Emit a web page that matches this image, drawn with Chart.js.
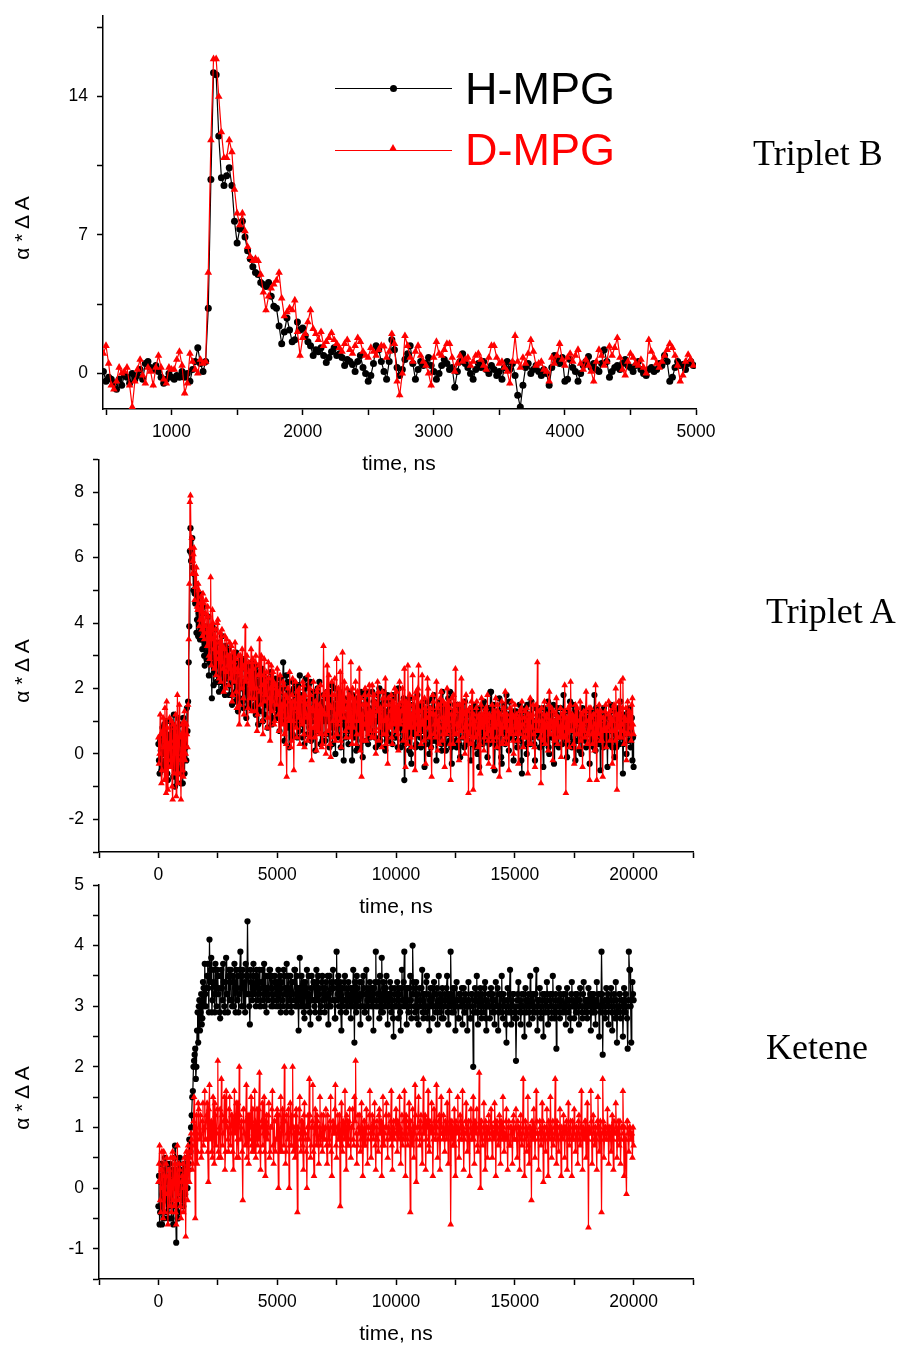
<!DOCTYPE html>
<html>
<head>
<meta charset="utf-8">
<script src="https://cdn.jsdelivr.net/npm/chart.js@4.4.1/dist/chart.umd.min.js"></script>
<style>
  body { margin: 0; background: #fff; }
  #page { position: relative; width: 907px; height: 1346px; overflow: hidden;
          font-family: "Liberation Sans", Arial, sans-serif; color: #000; }
  #page canvas { position: absolute; left: 0; }
  .lbl { position: absolute; white-space: nowrap; transform: translate(-50%, -50%); }
  .xt { font-size: 21px; }
  .yt { font-size: 21px; transform: translate(-50%, -50%) rotate(-90deg); }
  .tag { position: absolute; white-space: nowrap; transform: translateY(-50%);
         font-family: "Liberation Serif", "Times New Roman", serif; font-size: 36px; }
  .legtxt { position: absolute; white-space: nowrap; transform: translateY(-50%); font-size: 45px; }
  .legline { position: absolute; width: 117px; height: 0; }
</style>
</head>
<body>
<div id="page">
  <canvas id="tripletB" width="907" height="460" style="top:-4px"></canvas>
  <canvas id="tripletA" width="907" height="460" style="top:440px"></canvas>
  <canvas id="ketene" width="907" height="470" style="top:865px"></canvas>

  <!-- legend (top panel) -->
  <div class="legline" style="left:335px; top:88px; border-top:1px solid #000"></div>
  <div style="position:absolute; left:390px; top:85px; width:7px; height:7px; border-radius:50%; background:#000"></div>
  <div class="legtxt" style="left:465px; top:89px">H-MPG</div>
  <div class="legline" style="left:335px; top:150px; border-top:1px solid #f00"></div>
  <div style="position:absolute; left:389px; top:144px; width:0; height:0; border-left:4px solid transparent; border-right:4px solid transparent; border-bottom:7px solid #f00"></div>
  <div class="legtxt" style="left:465px; top:150px; color:#f00">D-MPG</div>

  <div class="tag" style="left:753px; top:153px">Triplet B</div>
  <div class="tag" style="left:766px; top:611px">Triplet A</div>
  <div class="tag" style="left:766px; top:1047px">Ketene</div>

  <div class="lbl xt" style="left:399px; top:463px">time, ns</div>
  <div class="lbl xt" style="left:396px; top:906px">time, ns</div>
  <div class="lbl xt" style="left:396px; top:1333px">time, ns</div>

  <div class="lbl yt" style="left:22px; top:228px">α * Δ A</div>
  <div class="lbl yt" style="left:22px; top:671px">α * Δ A</div>
  <div class="lbl yt" style="left:22px; top:1098px">α * Δ A</div>
</div>
<script>
// ---- Triplet B (top panel), sampled every 20 ns from 480 ns ----
const tripletBStart = 480, tripletBStep = 20;
const tripletBH = [
  0.1, -0.4, -0.2, -0.3, -0.5, -0.8, -0.3, -0.6, -0.1, -0.2,
  -0.5, 0.0, -0.3, -0.1, 0.2, -0.3, 0.5, 0.6, 0.3, 0.2,
  0.4, 0.1, -0.2, -0.5, -0.3, 0.0, -0.2, -0.3, -0.1, -0.2,
  0.1, -0.2, 0.0, -0.4, 0.2, 0.6, 1.3, 0.5, 0.1, 0.6,
  3.3, 9.8, 15.2, 15.1, 12.0, 9.9, 9.5, 10.0, 10.4, 9.5,
  7.7, 6.6, 7.3, 7.7, 6.9, 6.2, 5.8, 5.4, 5.1, 5.0,
  4.6, 4.5, 4.4, 4.6, 3.9, 3.4, 3.3, 2.4, 1.5, 2.1,
  2.8, 2.2, 1.6, 1.7, 2.6, 2.2, 2.3, 1.9, 1.6, 1.4,
  0.9, 1.2, 1.1, 1.3, 0.9, 0.55, 0.8, 1.1, 1.3, 0.9,
  1.0, 0.8, 0.4, 0.7, 0.6, 0.45, 0.1, 0.6, 0.9, 0.3,
  0.0, -0.4, -0.1, 0.5, 1.4, 1.2, 0.6, 0.1, -0.3, 0.6,
  1.7, 1.2, 0.3, -0.1, 0.2, 0.7, 1.0, 1.4, 0.5, -0.3,
  0.2, 0.6, 0.4, 0.5, 0.8, 0.4, 0.1, -0.3, 0.0, 0.4,
  0.7, 0.5, 0.2, 0.3, -0.7, 0.1, 0.6, 1.0, 0.5, 0.3,
  0.0, -0.3, 0.2, 0.5, 0.3, 0.6, 0.2, 0.0, 0.4, 0.2,
  -0.1, 0.1, -0.3, 0.3, 0.6, 0.2, 0.5, -0.1, -1.1, -1.7,
  -0.6, 0.3, 0.5, 0.0, 0.2, 0.4, 0.1, -0.1, 0.2, 0.0,
  -0.6, 0.3, 0.9, 0.7, 0.5, 0.8, -0.4, -0.3, 0.7, 0.3,
  0.1, -0.4, 0.0, 0.4, 0.6, 0.85, 0.3, 0.5, 0.2, 0.1,
  0.5, 1.2, 0.6, -0.2, 0.1, 0.3, 0.4, 0.2, 0.5, 0.7,
  0.4, 0.3, 0.1, 0.4, 0.6, 0.2, 0.0, -0.1, 0.2, 0.3,
  0.1, 0.2, 0.5, 0.4, 0.9, 0.6, -0.4, -0.2, 0.3, 0.6,
  0.4, 0.45, 0.2, 0.5, 0.6, 0.4
];
const tripletBD = [
  1.0, 1.4, 0.5, -0.6, -0.8, -0.4, 0.3, 0.0, 0.1, 0.3,
  -0.6, -1.7, -0.4, 0.2, 0.7, -0.1, -0.5, 0.3, 0.1, -0.6,
  0.3, 0.9, 0.3, -0.3, -0.5, 0.3, 0.2, 0.2, 0.7, 1.1,
  0.4, -1.0, -0.5, 1.0, 0.6, 0.2, 0.0, 0.7, 0.5, 0.6,
  5.1, 11.8, 15.9, 15.9, 14.0, 12.2, 10.9, 10.9, 11.8, 11.2,
  9.3, 8.1, 7.5, 8.1, 7.2, 6.4, 5.9, 5.7, 5.8, 5.7,
  5.0, 4.1, 3.2, 3.9, 4.3, 4.5, 4.7, 5.1, 3.8, 2.9,
  3.1, 3.3, 3.2, 3.7, 2.1, 0.9, 1.8, 2.0, 2.6, 3.2,
  2.25, 2.0, 1.7, 2.1, 1.4, 1.6, 1.8, 2.05, 1.7, 1.5,
  1.3, 1.1, 1.5, 1.7, 1.2, 1.0, 1.4, 1.8, 1.6, 1.1,
  0.9, 0.8, 1.3, 1.1, 0.9, 1.2, 1.4, 1.37, 0.8, 1.1,
  2.0, 1.5, -0.4, -1.1, 0.0, 1.9, 1.4, 0.8, 0.6, 1.1,
  1.4, 0.9, 0.6, 0.4, 0.0, -0.6, 0.8, 1.6, 1.0, 0.9,
  1.2, 1.5, 1.5, 0.8, 0.1, 0.5, 0.9, 0.6, 0.7, 0.8,
  0.4, 0.6, 0.9, 1.0, 0.7, 0.4, 0.2, 0.8, 1.4, 1.4,
  0.8, 0.5, 0.6, 0.3, 0.1, -0.5, 0.6, 1.9, 0.6, 0.3,
  0.8, 0.5, 1.0, 1.7, 1.1, 0.4, 0.5, 0.6, 0.2, 0.1,
  -0.4, 0.8, 0.5, 0.9, 1.5, 0.7, 0.4, 0.8, 1.0, 0.6,
  0.9, 1.2, 0.5, 0.2, 0.7, 0.4, 0.1, -0.4, 0.6, 1.2,
  0.9, 0.4, 0.6, 1.37, 0.9, 1.3, 1.8, 0.8, 0.2, -0.1,
  0.6, 1.0, 0.8, 0.5, 0.4, 0.7, 0.3, 0.0, 1.7, 1.1,
  0.8, 0.5, 0.3, 0.6, 0.9, 1.2, 1.5, 1.3, 0.9, 0.4,
  -0.4, -0.1, 0.6, 0.95, 0.7, 0.4
];
const tripletBXTicks = [500, 1000, 1500, 2000, 2500, 3000, 3500, 4000, 4500, 5000];
const tripletBXLabels = [1000, 2000, 3000, 4000, 5000];
const tripletBYTicks = [0, 3.5, 7, 10.5, 14, 17.5];
const tripletBYLabels = [0, 7, 14];

// ---- Triplet A (middle panel): readings at 0, 50, 100 ... ns and at 25, 75, 125 ... ns ----
const tripletAStart = 0, tripletAStep = 50;
const tripletAH = [
  0.3, -0.6, 0.1, -0.4, 0.5, 0.9, -0.2, 0.6, -0.8, 0.2, 1.0, -0.3, 0.4, 1.2, -1.0, 0.1, 0.7, -0.5, 0.9, -0.9,
  0.3, 1.1, -0.6, 0.2, 1.4, 1.6, 3.9, 6.9, 6.1, 5.7, 5.5, 4.6, 3.7, 4.8, 4.3, 3.5, 4.1, 3.2, 4.5, 2.7,
  3.9, 3.1, 4.2, 2.8, 3.6, 1.7, 3.3, 2.5, 3.8, 2.2, 3.0, 1.9, 3.4, 2.6, 2.0, 3.1, 1.8, 2.9, 2.3, 3.2,
  2.1, 2.7, 1.5, 3.0, 2.4, 1.9, 2.8, 1.3, 2.5, 2.0, 2.9, 1.6, 2.2, 2.6, 1.1, 2.4, 1.8, 2.7, 1.4, 2.3,
  1.9, 2.6, 1.2, 2.2, 0.9, 2.5, 1.7, 2.1, 1.0, 2.4, 1.5, 2.0, 0.8, 2.3, 1.6, 1.9, 1.1, 2.2, 1.4, 1.8,
  1.2, 2.1, 0.7, 1.9, 1.3, 2.8, 0.4, 1.7, 1.0, 2.2, 0.2, 1.6, 1.4, 0.6, 2.0, 1.1, 1.8, 0.5, 1.5, 2.4,
  0.9, 1.7, 1.2, 0.3, 2.3, 1.0, 1.6, 0.8, 2.2, 0.6, 1.4, 1.9, 0.1, 1.3, 2.0, 0.7, 1.5, 1.1, 0.4, 1.8,
  1.2, 0.6, 1.9, 1.0, 0.2, 1.6, 2.1, 0.8, 1.3, 0.0, 1.7, 1.1, 0.5, 1.8, 0.9, 1.4, -0.2, 1.2, 0.7, 1.5,
  0.3, 1.9, 1.0, -0.2, 1.4, 0.6, 1.7, 1.1, 0.2, 1.5, 0.8, 1.3, -0.1, 1.8, 0.9, 0.4, 1.6, 1.0, 0.5, 1.2,
  1.9, 0.7, 1.3, 0.2, 1.5, 1.0, 2.0, 0.4, 1.2, 0.8, 1.6, 0.1, 1.1, 1.8, 0.6, 1.4, 0.9, 0.3, 1.7, 1.0,
  0.5, 1.3, 2.0, 0.8, 0.2, 1.4, 1.0, -0.8, 0.6, 1.6, 0.9, 0.1, 1.2, -0.3, 1.5, 0.7, 1.1, 0.3, 1.8, 0.6,
  1.0, 0.2, 1.4, 0.7, -0.4, 1.2, 0.5, 1.6, 0.0, 0.9, 1.3, 0.4, 1.8, 0.6, -0.2, 1.1, 0.8, 1.5, 0.3, 1.9,
  0.7, 1.2, 0.1, 1.0, 1.7, 0.4, 0.9, -0.3, 1.3, 0.6, 1.1, 0.2, 1.5, 0.8, -0.1, 1.2, 0.5, 1.0, 1.6, 0.3,
  0.9, 0.4, 1.3, -0.2, 1.0, 0.6, 1.5, 0.2, 0.8, 1.2, -0.4, 0.7, 1.1, 0.3, 1.6, 0.5, 1.0, -0.1, 1.4, 0.8,
  1.9, 0.4, 1.1, -0.5, 0.8, 1.3, 0.2, 1.7, 0.6, -0.3, 1.0, 1.5, 0.3, 1.8, 0.7, 0.1, 1.2, 0.5, 1.0, -0.2,
  0.6, 1.3, 0.2, 0.9, 1.5, 0.4, -0.6, 1.1, 0.7, 1.4, 0.0, 0.8, 1.2, 0.3, 1.6, 0.5, 0.9, -0.2, 1.0, 0.6,
  1.4, 0.2, 0.8, 1.1, -0.4, 0.7, 1.3, 0.4, 1.6, 0.0, 0.9, 1.2, 0.5, -0.3, 1.0, 0.6, 1.4, 0.2, 0.8, 1.1,
  0.3, 1.8, 0.6, 1.0, -0.1, 1.3, 0.5, 0.9, 0.2, 1.5, 0.7, -0.2, 1.1, 0.4, 1.2, 0.8, 0.0, 1.4, 0.6, 1.0,
  0.2, 1.1, 0.7, -0.3, 1.3, 0.5, 0.9, 1.8, 0.1, 0.8, 1.2, 0.4, -0.5, 1.0, 0.6, 1.4, 0.3, 0.9, -0.4, 1.1,
  0.7, 1.5, 0.2, 1.0, -0.1, 1.3, 0.6, 0.9, 0.3, 1.6, 0.5, -0.6, 1.2, 0.8, 0.0, 1.1, 0.4, 1.4, 0.7, -0.2,
  -0.4
];
const tripletAHMid = [
  -0.2, 0.4, -0.5, 0.8, 0.0, -0.3, 1.0, -0.6, 0.5, -0.1, 0.6, 0.9, -0.7, 0.3, 0.8, -0.4, 1.1, 0.0, -0.6, 0.4,
  -0.9, 0.5, 0.9, -0.2, 0.7, 2.8, 6.2, 5.9, 6.6, 5.0, 4.9, 5.2, 4.1, 3.6, 4.9, 4.0, 3.5, 4.3, 3.0, 3.7,
  2.9, 3.7, 2.4, 3.5, 2.9, 3.9, 2.1, 3.2, 2.7, 3.4, 2.4, 3.1, 2.2, 3.6, 2.5, 2.1, 3.3, 2.4, 3.0, 1.8,
  2.9, 1.8, 2.6, 2.2, 1.6, 3.1, 2.0, 2.7, 1.7, 2.8, 2.1, 1.4, 2.9, 1.9, 2.5, 2.0, 1.5, 2.3, 2.8, 1.7,
  2.2, 1.5, 2.7, 1.8, 2.4, 1.3, 2.0, 2.6, 1.6, 1.2, 2.3, 1.8, 2.1, 1.4, 2.5, 0.9, 2.0, 1.6, 2.3, 1.1,
  1.9, 1.4, 2.3, 1.0, 2.0, 1.6, 1.2, 2.4, 0.8, 1.5, 1.9, 1.1, 0.5, 2.2, 1.3, 0.9, 1.6, 2.1, 0.7, 1.3,
  1.8, 0.5, 1.4, 2.0, 1.1, 0.6, 2.1, 1.3, 0.4, 1.7, 1.0, 0.7, 1.9, 0.9, 1.2, 2.2, 0.3, 1.6, 1.0, 1.4,
  0.4, 1.7, 1.1, 0.6, 1.9, 0.9, 0.3, 1.5, 2.0, 1.0, 0.6, 1.4, 1.9, 0.2, 1.3, 1.0, 1.7, 0.5, 1.1, 0.8,
  1.5, 0.7, 1.3, 1.8, 0.5, 1.2, 0.1, 1.6, 1.0, 0.7, 1.9, 0.4, 1.2, 0.8, 1.5, 1.9, 0.3, 1.4, 1.1, 0.6,
  1.3, 1.6, 0.5, 1.0, 1.8, 0.3, 1.1, 1.5, 0.6, 1.9, 0.2, 1.3, 0.7, 0.4, 1.6, 0.9, 1.2, 1.8, 0.5, 1.4,
  1.1, 0.2, 0.9, 1.5, 1.2, 0.4, 1.7, 0.3, 1.0, 0.5, 1.3, 1.7, 0.0, 1.0, 0.6, 1.4, 0.2, 1.2, 0.9, 1.5,
  0.5, 1.3, 0.8, 1.6, 0.9, 0.3, 1.0, 0.6, 1.4, 0.2, 1.7, 0.8, 1.1, 0.4, 1.3, 0.5, 1.6, 0.9, 0.1, 1.2,
  1.4, 0.3, 1.1, 0.6, 1.2, 1.9, 0.2, 1.0, 0.7, 1.5, 0.4, 1.3, 0.9, 0.3, 1.4, 0.8, 1.1, 0.2, 1.0, 1.3,
  0.6, 1.2, 0.8, 1.4, 0.3, 1.1, 0.6, 1.3, 0.0, 1.0, 1.4, 0.5, 0.9, 1.5, 0.4, 1.2, 0.7, 1.1, 0.3, 1.9,
  1.0, 0.7, 1.5, 0.3, 1.2, 0.5, 0.9, 1.3, -0.1, 1.1, 0.6, 1.4, 0.8, 0.4, 1.2, 1.6, 0.5, 1.1, 0.7, 1.3,
  1.0, 0.4, 1.2, 0.7, 1.0, -0.2, 1.3, 0.6, 1.1, 0.3, 1.5, 0.9, 0.5, 1.2, 0.8, 1.0, 0.3, 1.4, 0.7, 1.1,
  0.5, 1.2, 0.9, 0.3, 1.4, 1.0, 0.6, 1.1, 0.2, 1.3, 0.8, 0.5, 1.5, 0.9, 0.3, 1.2, 0.7, 1.0, 1.4, 0.6,
  1.1, 0.7, 1.3, 0.4, 1.0, 0.8, 1.6, 0.3, 1.2, 0.9, 0.4, 1.3, 0.7, 1.0, 0.1, 1.1, 0.8, 0.6, 1.2, 0.4,
  0.9, 0.6, 1.3, 0.8, 0.4, 1.1, 0.2, 1.0, 1.4, 0.6, 0.3, 1.2, 0.8, 1.1, 0.2, 0.9, 1.2, 0.5, 0.8, 0.3,
  1.1, 0.4, 0.9, 1.3, 0.6, 0.2, 1.1, 1.4, 0.5, 0.9, 1.2, 0.3, 0.8, 1.0, 0.6, 1.3, 0.9, 0.2, 1.1, 0.5
];
const tripletAD = [
  0.5, 0.0, 0.6, -0.5, 1.1, -0.8, 0.4, 1.6, -1.1, 0.3, -0.4, 1.0, -1.4, 0.2, 0.8, -1.3, 1.8, -0.6, 0.5, -1.4,
  0.9, -0.7, 1.3, 0.0, 0.6, 1.5, 5.2, 7.9, 6.6, 5.9, 6.3, 5.1, 5.7, 4.4, 5.0, 4.1, 4.8, 3.6, 4.6, 3.9,
  4.7, 3.3, 4.2, 2.9, 5.4, 3.5, 4.0, 2.6, 3.8, 3.1, 4.1, 2.3, 3.7, 2.8, 3.3, 1.9, 3.6, 2.5, 3.0, 2.1,
  3.4, 2.6, 1.6, 3.1, 2.2, 2.9, 1.4, 2.5, 0.9, 3.0, 2.0, 2.7, 1.2, 3.9, 2.3, 0.9, 2.8, 1.7, 3.2, 2.0,
  2.6, 1.3, 3.0, 0.7, 2.4, 3.5, 1.5, 2.1, 0.6, 2.9, 1.8, 2.5, 1.1, 2.3, 0.4, 2.7, 1.6, 2.2, 1.0, 2.0,
  2.6, 1.2, 1.9, -0.3, 1.5, 2.2, 0.6, 1.8, -0.7, 2.0, 1.0, 1.6, 0.4, 2.3, -0.5, 1.4, 0.8, 1.9, 1.1, 0.3,
  1.7, 0.9, 2.1, 0.2, 1.5, 1.1, 2.4, 0.5, 1.8, -0.2, 1.3, 0.8, 1.6, 0.1, 2.0, 1.2, 0.6, 1.4, 0.3, 3.3,
  1.2, 0.0, 2.7, 0.7, 1.5, -0.1, 2.2, 1.0, 1.8, 0.4, 2.9, 0.9, 1.3, 2.5, 0.2, 3.1, 1.1, 1.6, 0.5, 2.0,
  0.8, 1.4, 2.8, 0.3, 1.7, 1.0, 2.2, 0.6, 1.3, 2.6, 0.1, -0.7, 1.5, 0.9, 2.0, 0.4, 1.2, 1.8, 0.7, 1.1,
  2.1, 0.5, 1.6, 0.0, 1.3, 1.9, 0.8, 1.4, 0.2, 1.7, 1.0, 2.3, 0.6, -0.3, 1.5, 0.9, 1.8, 0.3, 1.2, 2.0,
  0.7, 1.4, 0.1, 2.2, 1.0, 1.6, 0.4, 2.6, -0.4, 1.2, 2.7, 0.8, 1.5, 0.2, 2.4, 1.1, -0.5, 1.9, 0.6, 2.7,
  1.3, 0.3, 2.4, 0.9, 1.7, -0.3, 1.1, 2.0, 0.5, 1.4, -0.7, 1.8, 0.6, 1.2, 2.2, 0.1, 1.5, 0.8, 1.9, 0.4,
  1.6, -0.4, 1.1, 2.0, 0.7, 1.4, -0.8, 1.7, 0.3, 1.2, 2.6, 0.6, 1.5, -0.2, 1.0, 2.3, 0.5, 1.3, 0.0, 1.8,
  0.7, -1.2, 1.4, 0.3, 1.9, -1.1, 1.0, 0.5, 1.6, 0.2, 1.2, -0.6, 1.7, 0.8, 0.1, 1.3, 0.6, 1.8, -0.3, 1.1,
  0.5, 1.5, -0.4, 1.0, 1.7, 0.2, 1.3, -0.7, 0.9, 1.6, 0.4, 1.2, 1.9, 0.3, 1.0, -0.5, 1.4, 0.7, 1.2, 0.0,
  1.5, 0.6, 1.0, -0.3, 1.3, 0.8, 1.6, 0.2, 1.1, 0.5, 1.4, -0.6, 0.9, 1.7, 0.3, 1.2, 0.6, -0.4, 1.5, 2.8,
  0.7, 1.3, -0.9, 1.0, 0.4, 1.6, 0.8, 1.2, 0.1, 1.9, 0.6, 1.4, -0.2, 1.0, 0.5, 1.7, 0.3, 1.1, 0.8, -0.1,
  1.2, 0.5, 2.1, -1.2, 0.9, 1.4, 0.2, 2.2, 0.7, 1.1, -0.3, 1.5, 0.6, 1.0, 0.2, 1.6, 0.8, -0.4, 1.3, 0.5,
  1.9, 0.3, 1.0, -0.8, 1.4, 0.6, 1.2, 0.1, 2.1, -0.8, 0.9, 1.5, 0.4, 1.1, -0.7, 0.7, 1.3, 0.2, 0.8, 1.6,
  0.4, 1.1, -0.3, 1.4, 0.7, 2.0, -1.1, 1.2, 0.5, 2.2, 0.9, 2.3, 0.3, 1.0, -0.2, 1.6, 0.6, 1.2, 0.4, 1.7,
  0.6
];
const tripletADMid = [
  -0.3, 1.2, -0.9, 0.7, 0.2, 1.4, -1.2, 0.8, -0.2, 1.1, 0.4, -1.0, 0.9, -0.6, 1.2, 0.0, -0.9, 1.5, -0.2, 0.6,
  -0.5, 1.0, -0.2, 0.9, 0.2, 3.5, 7.7, 6.3, 5.5, 6.1, 4.7, 5.5, 4.5, 5.2, 3.9, 4.6, 3.8, 4.9, 3.5, 4.3,
  3.7, 4.5, 3.0, 3.9, 2.7, 4.4, 3.2, 3.6, 2.4, 4.0, 2.9, 3.4, 2.2, 3.8, 2.6, 3.2, 2.0, 3.5, 2.7, 3.0,
  2.3, 3.3, 1.8, 2.8, 3.4, 1.9, 2.6, 3.0, 1.5, 2.4, 3.2, 1.7, 2.6, 2.2, 3.0, 1.4, 2.5, 2.1, 1.3, 2.9,
  1.7, 2.8, 2.0, 1.2, 2.7, 1.9, 3.0, 1.0, 2.4, 1.6, 2.2, 0.8, 2.8, 1.7, 2.0, 1.3, 2.5, 0.9, 2.1, 1.5,
  1.8, 0.7, 2.4, 1.3, 0.9, 2.1, 1.5, 0.3, 1.7, 1.1, 2.5, 0.2, 1.8, 1.0, 1.6, 2.2, 0.5, 1.3, 2.0, 1.6,
  1.0, 2.2, 0.6, 1.8, 1.2, 0.4, 1.6, 2.0, 0.8, 1.4, 2.2, 0.5, 1.1, 1.9, 0.7, 1.5, 2.1, 0.2, 1.3, 1.8,
  0.6, 1.9, 1.2, 2.4, 0.3, 1.4, 1.8, 0.5, 2.3, 1.2, 0.6, 2.0, 1.0, 0.4, 1.7, 1.3, 2.2, 0.7, 1.4, 1.0,
  1.8, 0.5, 1.1, 2.0, 0.8, 1.6, 0.3, 1.9, 1.0, 0.6, 1.7, 1.2, 0.4, 1.8, 0.9, 1.5, 0.6, 2.1, 1.3, 0.5,
  1.2, 1.8, 0.7, 1.5, 2.2, 0.4, 1.3, 1.0, 1.9, 0.6, 1.5, 0.3, 1.1, 1.7, 0.8, 1.3, 0.5, 1.6, 0.9, 1.4,
  1.9, 0.6, 1.5, 0.9, 1.3, 2.0, 0.7, 1.1, 1.6, 0.3, 1.4, 1.8, 0.5, 1.2, 0.8, 1.7, 0.9, 1.3, 2.0, 0.7,
  0.9, 1.6, 1.0, 0.4, 1.4, 1.1, 2.3, 0.8, 1.3, 0.2, 1.2, 1.6, 0.9, 0.5, 1.4, 1.0, 0.3, 1.7, 1.1, 0.6,
  1.0, 1.5, 0.6, 0.9, 1.6, 0.3, 1.2, 1.0, 1.8, 0.6, 1.3, 0.9, 0.4, 1.5, 0.7, 1.1, 1.6, 0.8, 1.2, 0.4,
  1.3, 0.6, 0.9, 1.6, 0.5, 1.2, 0.8, 1.4, 0.6, 1.1, 0.3, 1.5, 0.9, 1.2, 0.5, 1.4, 1.0, 0.4, 1.2, 0.7,
  1.1, 0.4, 1.3, 0.8, 0.5, 1.5, 0.9, 1.2, 0.6, 0.3, 1.4, 0.8, 0.5, 1.2, 0.7, 1.0, 0.6, 1.6, 0.4, 1.1,
  0.8, 1.2, 0.4, 1.1, 0.6, 1.4, 0.9, 0.5, 1.3, 0.7, 1.0, 1.2, 0.3, 1.1, 0.8, 1.5, 0.2, 1.0, 0.7, 1.3,
  1.0, 0.5, 1.4, 0.7, 1.2, 0.3, 1.1, 0.9, 1.5, 0.6, 1.0, 0.8, 1.3, 0.4, 1.2, 0.9, 1.1, 0.5, 1.4, 0.8,
  0.6, 1.3, 0.8, 1.1, 0.4, 1.0, 1.5, 0.7, 1.2, 0.3, 1.1, 0.9, 1.4, 0.6, 1.0, 0.4, 1.2, 0.9, 0.7, 1.3,
  1.0, 0.6, 1.4, 0.8, 1.1, 0.3, 1.2, 0.9, 0.5, 1.3, 0.6, 1.0, 1.3, 0.4, 1.1, 0.8, 1.5, 0.7, 1.2, 0.9,
  1.3, 0.7, 1.0, 1.5, 0.4, 1.2, 0.8, 1.6, 0.9, 0.5, 1.4, 0.7, 1.1, 1.4, 0.6, 1.0, 1.3, 0.8, 1.5, 0.9
];
const tripletAXTicks = [-2500, 0, 2500, 5000, 7500, 10000, 12500, 15000, 17500, 20000, 22500];
const tripletAXLabels = [0, 5000, 10000, 15000, 20000];
const tripletAYTicks = [-3, -2, -1, 0, 1, 2, 3, 4, 5, 6, 7, 8, 9];
const tripletAYLabels = [-2, 0, 2, 4, 6, 8];

// ---- Ketene (bottom panel): readings at 0, 50, 100 ... ns and at 25, 75, 125 ... ns ----
const keteneStart = 0, keteneStep = 50;
const keteneH = [
  -0.3, -0.6, 0.1, -0.6, 0.3, -0.2, 0.2, -0.4, 0.4, -0.3, 0.1, -0.5, 0.3, 0.0, 0.7, -0.9, 0.3, -0.4, 0.5, -0.1,
  0.2, -0.3, 0.4, 0.1, 0.5, 0.3, 0.8, 0.6, 1.2, 1.6, 2.1, 2.3, 2.0, 2.9, 3.0, 2.6, 3.2, 2.8, 3.3, 3.7,
  3.0, 3.5, 3.3, 4.1, 3.6, 2.9, 3.4, 3.2, 3.7, 3.0, 3.5, 3.3, 2.8, 3.6, 3.1, 3.4, 2.9, 3.8, 3.2, 3.5,
  3.1, 3.6, 3.0, 3.4, 3.7, 2.9, 3.3, 3.5, 3.2, 3.9, 3.0, 3.6, 3.3, 2.9, 3.5, 4.4, 3.2, 2.7, 3.4, 3.1,
  3.7, 3.3, 3.0, 3.5, 3.2, 3.6, 3.0, 3.4, 3.1, 3.7, 3.3, 2.9, 3.5, 3.2, 3.6, 3.0, 3.3, 3.1, 3.5, 3.4,
  3.1, 3.6, 3.2, 2.9, 3.4, 3.0, 3.5, 3.3, 3.7, 3.0, 3.2, 3.5, 2.9, 3.4, 3.1, 3.6, 3.0, 3.3, 2.6, 3.8,
  3.2, 3.0, 3.4, 2.8, 3.3, 3.6, 3.0, 3.2, 2.7, 3.5, 3.1, 3.4, 2.9, 3.6, 3.2, 2.8, 3.3, 3.0, 3.5, 3.1,
  2.9, 3.4, 3.2, 2.7, 3.5, 3.0, 3.3, 3.6, 3.1, 2.8, 3.9, 3.2, 3.0, 3.4, 2.6, 3.3, 3.1, 3.5, 2.9, 3.2,
  3.4, 3.0, 2.8, 3.3, 3.6, 2.4, 3.1, 3.5, 3.0, 3.2, 2.7, 3.4, 3.0, 3.3, 2.9, 3.6, 3.1, 2.8, 3.4, 3.0,
  3.3, 2.6, 3.1, 3.9, 3.0, 3.4, 2.8, 3.2, 3.8, 2.9, 3.3, 3.0, 3.5, 2.7, 3.2, 3.4, 2.9, 3.1, 2.5, 3.3,
  3.0, 3.4, 2.8, 3.2, 2.6, 3.6, 3.0, 3.9, 3.1, 2.7, 3.3, 3.0, 3.5, 2.8, 4.0, 3.2, 2.9, 3.4, 3.1, 2.7,
  3.3, 3.0, 3.6, 2.8, 3.2, 2.9, 3.5, 3.0, 2.6, 3.3, 3.1, 2.8, 3.4, 3.0, 3.2, 2.7, 3.5, 2.9, 3.1, 3.3,
  2.8, 3.2, 3.0, 3.5, 2.7, 3.1, 3.9, 2.9, 3.3, 3.0, 2.6, 3.4, 3.1, 2.8, 3.2, 3.0, 2.7, 3.3, 2.9, 3.1,
  2.6, 3.4, 3.0, 2.8, 3.2, 2.0, 3.1, 2.9, 3.5, 2.7, 3.0, 3.3, 2.8, 3.1, 2.9, 3.4, 2.6, 3.0, 3.2, 2.8,
  3.3, 2.9, 3.1, 2.7, 3.4, 3.0, 2.6, 3.2, 2.9, 3.5, 2.8, 3.1, 3.0, 2.4, 3.3, 2.9, 3.6, 2.7, 3.0, 3.2,
  2.8, 2.1, 3.1, 3.4, 2.9, 2.7, 3.2, 3.0, 2.5, 3.3, 2.9, 3.1, 2.7, 3.5, 3.0, 2.8, 3.2, 2.9, 3.6, 2.6,
  3.0, 3.3, 2.8, 3.1, 2.5, 3.2, 2.9, 3.4, 2.7, 3.0, 3.2, 2.8, 3.5, 2.9, 3.1, 2.3, 3.0, 3.3, 2.8, 3.1,
  2.9, 3.2, 3.0, 2.7, 3.3, 2.9, 3.1, 2.6, 3.4, 3.0, 2.8, 3.2, 2.9, 3.1, 2.7, 3.3, 3.0, 2.8, 3.4, 2.9,
  3.1, 2.8, 3.3, 3.0, 2.6, 3.2, 2.9, 3.1, 2.7, 3.4, 3.0, 2.5, 3.2, 3.9, 2.2, 3.0, 2.8, 3.3, 3.1, 2.7,
  3.0, 3.3, 2.6, 3.1, 2.9, 3.4, 2.4, 3.0, 3.2, 2.8, 3.1, 2.5, 3.3, 2.9, 3.0, 2.3, 3.9, 3.6, 2.4, 3.4,
  3.1
];
const keteneHMid = [
  0.2, -0.4, 0.4, -0.1, -0.5, 0.5, -0.2, 0.1, -0.5, 0.4, -0.2, 0.2, -0.6, 0.5, -0.3, 0.2, -0.5, 0.4, 0.0, 0.3,
  -0.2, 0.4, -0.1, 0.3, 0.0, 0.4, 0.7, 1.0, 1.5, 2.0, 2.2, 1.8, 2.6, 2.4, 3.1, 2.9, 2.7, 3.4, 3.0, 3.2,
  3.3, 3.7, 2.9, 3.4, 3.8, 3.1, 3.6, 2.9, 3.3, 3.6, 3.2, 2.9, 3.5, 3.3, 3.7, 3.0, 3.4, 3.2, 2.9, 3.6,
  3.4, 3.1, 3.5, 3.0, 3.3, 3.6, 3.1, 2.9, 3.6, 3.3, 3.5, 3.0, 3.4, 3.7, 3.2, 3.5, 3.0, 3.6, 3.2, 3.5,
  3.2, 3.5, 3.6, 3.1, 3.4, 3.0, 3.3, 3.6, 3.2, 3.0, 3.5, 3.3, 3.1, 3.6, 3.3, 3.5, 3.0, 3.4, 3.2, 3.0,
  3.4, 3.0, 3.5, 3.3, 3.1, 3.6, 3.2, 2.9, 3.3, 3.5, 3.1, 3.0, 3.4, 3.2, 3.6, 3.0, 3.5, 3.1, 3.3, 3.0,
  3.5, 3.3, 2.9, 3.4, 3.0, 3.2, 3.5, 2.9, 3.3, 3.1, 3.4, 3.0, 3.3, 3.1, 3.5, 3.2, 2.9, 3.4, 3.1, 3.3,
  3.3, 3.0, 3.5, 3.2, 3.0, 3.4, 3.1, 3.3, 2.8, 3.4, 3.1, 3.5, 3.2, 2.9, 3.3, 3.0, 3.4, 3.1, 3.3, 3.0,
  3.1, 3.3, 3.1, 3.0, 3.2, 3.4, 2.9, 3.3, 3.1, 3.4, 3.0, 3.2, 3.5, 2.9, 3.2, 3.0, 3.3, 3.1, 3.2, 3.3,
  3.0, 3.3, 3.4, 3.0, 3.2, 3.1, 3.5, 2.9, 3.1, 3.4, 3.0, 3.3, 3.1, 3.2, 3.0, 3.1, 3.3, 2.8, 3.2, 3.0,
  3.2, 3.1, 3.3, 2.9, 3.3, 3.1, 3.4, 3.0, 3.3, 3.1, 2.9, 3.3, 3.1, 3.2, 3.4, 3.0, 3.3, 2.8, 3.2, 3.0,
  3.1, 3.3, 2.9, 3.2, 3.0, 3.4, 2.8, 3.2, 3.1, 3.0, 3.3, 3.0, 3.2, 2.9, 3.3, 3.1, 3.0, 3.2, 2.8, 3.1,
  3.0, 3.1, 3.3, 2.9, 3.2, 3.0, 3.2, 3.1, 2.9, 3.3, 3.0, 3.1, 2.8, 3.2, 3.0, 3.3, 3.1, 2.9, 3.2, 3.0,
  3.0, 3.1, 2.8, 3.2, 3.0, 2.9, 3.3, 3.1, 2.9, 3.2, 3.1, 2.9, 3.2, 3.0, 3.3, 2.8, 3.1, 3.0, 3.0, 3.2,
  3.0, 3.2, 2.9, 3.1, 3.0, 3.3, 2.9, 3.0, 3.2, 2.9, 3.2, 3.0, 2.7, 3.1, 3.0, 3.2, 2.9, 3.1, 3.2, 2.9,
  3.0, 2.8, 3.2, 3.0, 3.1, 2.9, 3.0, 3.2, 2.9, 3.1, 3.0, 3.2, 2.9, 3.0, 3.2, 3.0, 2.9, 3.2, 3.0, 3.1,
  3.1, 2.9, 3.0, 3.2, 2.9, 3.1, 3.0, 3.2, 2.9, 3.1, 3.0, 3.2, 3.0, 2.8, 3.2, 3.0, 3.1, 2.9, 3.2, 3.0,
  3.0, 2.9, 3.2, 3.0, 3.1, 3.0, 2.8, 3.2, 3.0, 3.1, 3.0, 2.9, 3.2, 3.0, 3.1, 3.0, 2.9, 3.2, 3.0, 3.1,
  2.9, 3.1, 3.0, 3.2, 2.9, 3.0, 3.2, 2.9, 3.1, 3.0, 3.2, 3.0, 2.9, 3.2, 3.0, 3.1, 2.9, 3.0, 3.2, 3.0,
  3.1, 2.9, 3.0, 3.2, 2.8, 3.1, 3.0, 2.9, 3.2, 3.0, 3.1, 2.9, 3.0, 3.2, 2.8, 3.1, 3.6, 3.0, 3.1, 3.2
];
const keteneD = [
  0.1, 0.7, -0.4, 0.6, -0.5, 0.2, -0.1, 0.5, -0.6, 0.3, 0.0, -0.4, 0.6, -0.3, 0.4, -0.6, 0.7, -0.2, 0.3, -0.5,
  0.2, -0.4, 0.5, -0.8, 0.3, 0.7, 0.1, 0.6, 0.8, 0.4, 1.5, -0.5, 1.2, 0.6, 1.3, 0.9, 0.5, 1.1, 0.7, 1.6,
  0.8, 1.4, 0.1, 1.7, 1.0, 0.6, 1.5, 0.4, 1.2, 0.9, 2.1, 0.5, 1.3, 1.8, 0.7, 1.1, 0.3, 1.6, 1.0, 0.6,
  1.5, 0.9, 1.2, 0.3, 1.6, 1.0, 0.5, 1.4, 2.0, 0.8, 1.1, -0.2, 1.3, 0.7, 1.7, 0.9, 0.4, 1.2, 1.5, 0.6,
  1.0, 1.6, 0.5, 1.3, 0.8, 1.9, 0.3, 1.1, 0.7, 1.5, 0.2, 1.2, 0.9, 1.4, 0.6, 1.0, 1.6, 0.4, 1.1, 0.8,
  1.3, 0.0, 0.9, 1.5, 0.6, 1.1, 2.0, 0.4, 1.2, 0.8, 0.0, 1.4, 0.7, 2.0, 1.0, 0.5, 1.3, -0.4, 0.9, 1.5,
  0.6, 1.1, 0.3, 1.4, 0.8, 0.0, 1.2, 1.8, 0.5, 1.0, 1.7, 0.2, 1.3, 0.7, 1.1, 0.4, 1.5, 0.9, 0.6, 1.2,
  0.8, 1.3, 0.4, 1.0, 0.7, 1.5, 0.2, 1.1, 0.9, 1.7, 0.5, 1.2, 0.8, -0.3, 1.4, 0.6, 1.0, 1.6, 0.3, 1.1,
  0.7, 1.3, 0.5, 1.0, 0.8, 1.5, 2.1, 0.4, 1.2, 0.9, 0.6, 1.4, 0.2, 1.1, 0.7, 1.3, 0.4, 1.0, 1.6, 0.5,
  1.2, 0.8, 1.4, 0.3, 1.1, 0.6, 1.3, 0.9, 0.2, 1.5, 0.7, 1.0, 1.4, 0.5, 1.2, 0.8, 1.6, 0.3, 1.1, 0.9,
  1.3, 0.6, 1.0, 1.5, 0.4, 1.2, 0.8, 1.6, 0.2, 1.1, 0.7, 1.4, -0.4, 0.9, 1.3, 0.5, 1.7, 0.1, 1.0, 1.5,
  0.7, 1.2, 0.4, 1.8, 0.9, 0.3, 1.1, 1.6, 0.6, 1.0, 1.4, 0.2, 1.3, 0.8, 1.7, 0.5, 1.1, 0.3, 1.5, 0.9,
  1.2, 0.6, 1.0, 1.4, 0.4, 1.6, -0.6, 1.1, 0.7, 1.3, 0.2, 1.0, 1.5, 0.5, 1.2, 0.8, 1.6, 0.3, 0.9, 1.4,
  0.6, 1.1, 0.2, 1.3, 0.8, 1.5, 0.4, 1.0, 1.3, 0.6, 1.9, 0.0, 1.1, 0.7, 1.4, 0.3, 1.0, 0.5, 1.2, 0.8,
  1.3, 0.5, 0.9, 1.4, 0.2, 1.1, 0.7, 1.2, 0.4, 1.0, 1.5, 0.6, 0.8, 1.3, 0.3, 1.1, 0.7, 1.0, 0.4, 1.2,
  0.8, 1.3, 0.5, 1.0, 0.3, 1.2, 0.7, 1.8, 0.2, 1.1, 0.6, 1.5, 0.4, 1.0, -0.2, 0.8, 1.3, 0.5, 1.6, 0.9,
  0.3, 1.1, 0.7, 1.4, 0.1, 1.0, 0.6, 1.3, 0.2, 0.9, 1.5, 0.5, 1.1, 0.8, 1.8, 0.4, 1.0, 0.6, 1.3, 0.2,
  0.9, 1.2, 0.5, 1.0, 0.3, 1.4, 0.7, 1.1, 0.2, 0.8, 1.3, 0.6, 1.0, 0.4, 1.2, 0.7, 1.6, 0.3, 0.9, 1.1,
  0.5, 1.4, -0.65, 0.9, 1.6, 0.4, 1.2, 0.7, 1.0, 0.3, 1.5, 0.6, 1.1, -0.4, 1.8, 0.5, 1.0, 0.8, 1.3, 0.4,
  1.0, 0.6, 1.2, 0.3, 0.9, 1.4, 0.5, 1.1, 0.7, 0.4, 1.0, 1.6, 0.2, 0.8, -0.1, 1.1, 0.6, 1.0, 0.8, 0.5,
  0.7
];
const keteneDMid = [
  0.4, -0.2, 0.3, 0.0, 0.6, -0.4, 0.4, -0.1, 0.2, -0.3, 0.5, 0.1, -0.2, 0.5, -0.4, 0.2, -0.1, 0.4, -0.3, 0.1,
  0.4, 0.0, 0.2, 0.6, -0.2, 0.3, 0.5, 0.9, 0.3, 1.1, 0.7, 1.0, 0.4, 1.4, 0.8, 1.2, 0.6, 1.4, 1.0, 0.8,
  1.2, 0.6, 1.3, 0.8, 1.1, 0.5, 1.0, 1.4, 0.7, 1.3, 0.6, 1.0, 0.5, 1.2, 0.9, 1.5, 0.6, 1.1, 0.8, 1.3,
  0.7, 1.2, 0.6, 1.1, 0.9, 1.4, 0.8, 0.5, 1.2, 1.0, 0.6, 1.3, 0.9, 1.1, 0.5, 1.2, 0.8, 1.0, 0.7, 1.3,
  0.6, 1.1, 0.9, 0.7, 1.3, 0.6, 1.0, 1.4, 0.9, 0.6, 1.1, 0.8, 1.2, 0.5, 1.0, 1.3, 0.7, 1.1, 0.6, 1.2,
  0.8, 1.2, 0.6, 1.0, 1.3, 0.7, 1.1, 0.6, 0.9, 1.3, 0.7, 1.0, 1.2, 0.6, 0.9, 1.2, 0.7, 1.0, 1.3, 0.8,
  1.1, 0.7, 1.2, 0.9, 0.6, 1.0, 0.8, 1.2, 0.7, 1.1, 0.6, 1.0, 0.9, 1.2, 0.8, 1.0, 0.7, 1.2, 1.0, 0.8,
  1.0, 0.7, 1.2, 0.8, 1.1, 0.6, 1.0, 0.9, 1.3, 0.7, 1.0, 0.8, 1.2, 0.9, 0.7, 1.1, 0.8, 1.0, 1.2, 0.7,
  1.1, 0.8, 1.0, 1.3, 0.7, 1.1, 0.9, 0.7, 1.0, 1.2, 0.8, 1.0, 0.7, 1.1, 0.9, 1.0, 0.8, 1.2, 0.9, 1.0,
  0.9, 1.1, 0.7, 1.0, 0.8, 1.2, 0.9, 1.1, 0.7, 1.0, 0.9, 1.2, 0.8, 1.0, 0.9, 1.1, 0.7, 1.0, 0.8, 1.1,
  0.9, 1.1, 0.8, 1.0, 0.9, 0.7, 1.1, 0.9, 1.2, 0.8, 1.0, 0.9, 1.1, 0.7, 1.0, 0.9, 1.2, 0.8, 1.0, 0.9,
  1.1, 0.8, 1.0, 0.9, 1.2, 0.8, 1.0, 0.7, 1.1, 0.9, 1.0, 0.8, 1.1, 0.9, 1.0, 0.8, 1.2, 0.9, 1.0, 0.8,
  0.9, 1.1, 0.8, 1.0, 0.9, 1.1, 0.8, 1.0, 0.9, 0.7, 1.1, 0.9, 1.0, 0.8, 1.1, 0.9, 1.0, 0.8, 1.1, 0.9,
  1.0, 0.8, 1.1, 0.9, 1.0, 0.8, 1.1, 0.9, 0.7, 1.0, 0.9, 1.1, 0.8, 1.0, 0.9, 1.1, 0.8, 1.0, 0.9, 1.1,
  0.9, 1.0, 0.8, 1.1, 0.9, 1.0, 0.8, 0.9, 1.1, 0.8, 1.0, 0.9, 1.1, 0.8, 1.0, 0.7, 1.0, 0.9, 1.1, 0.8,
  1.0, 0.8, 1.1, 0.9, 1.0, 0.8, 0.9, 1.1, 0.8, 1.0, 0.9, 0.7, 1.0, 0.9, 1.1, 0.8, 1.0, 0.9, 1.1, 0.8,
  0.9, 1.0, 0.8, 1.1, 0.9, 0.8, 1.0, 0.9, 1.1, 0.8, 1.0, 0.9, 0.7, 1.0, 0.9, 1.1, 0.8, 1.0, 0.9, 1.0,
  0.8, 1.0, 0.9, 1.1, 0.8, 0.9, 1.0, 0.8, 1.1, 0.9, 1.0, 0.8, 0.9, 1.1, 0.8, 1.0, 0.9, 1.0, 0.8, 1.1,
  0.9, 0.8, 1.0, 0.9, 1.1, 0.8, 1.0, 0.9, 0.8, 1.1, 0.9, 1.0, 0.8, 0.9, 1.1, 0.8, 1.0, 0.9, 1.0, 0.8,
  0.9, 1.0, 0.8, 1.1, 0.9, 1.0, 0.8, 0.9, 1.1, 0.8, 1.0, 0.9, 1.0, 0.8, 1.1, 0.9, 1.0, 0.8, 0.9, 1.0
];
const keteneXTicks = [-2500, 0, 2500, 5000, 7500, 10000, 12500, 15000, 17500, 20000, 22500];
const keteneXLabels = [0, 5000, 10000, 15000, 20000];
const keteneYTicks = [-1.5, -1, -0.5, 0, 0.5, 1, 1.5, 2, 2.5, 3, 3.5, 4, 4.5, 5];
const keteneYLabels = [-1, 0, 1, 2, 3, 4, 5];

const FONT = '"Liberation Sans", Arial, sans-serif';

// merge the on-grid readings with the half-step readings (if any) into {x, y} points
function toPoints(values, midValues, start, step) {
  const pts = [];
  values.forEach((v, i) => {
    pts.push({ x: start + i * step, y: v });
    if (midValues && i < midValues.length) pts.push({ x: start + i * step + step / 2, y: midValues[i] });
  });
  return pts;
}

function axis(min, max, tickValues, labelValues, pad, fit) {
  return {
    type: "linear",
    min, max,
    afterBuildTicks: (s) => { s.ticks = tickValues.map((v) => ({ value: v })); },
    afterFit: fit,
    grid: { display: true, drawOnChartArea: false, drawTicks: true, tickLength: 6, tickColor: "#000", tickWidth: 1.5 },
    border: { display: true, color: "#000", width: 1.5 },
    ticks: {
      autoSkip: false, maxRotation: 0, padding: pad, color: "#000",
      font: { family: FONT, size: 17.5 },
      callback: (v) => (labelValues.includes(v) ? String(v) : ""),
    },
  };
}

function drawPanel(id, p) {
  new Chart(document.getElementById(id), {
    type: "line",
    data: {
      datasets: [
        {
          label: "D-MPG", data: toPoints(p.d, p.dMid, p.start, p.step), order: 0,
          borderColor: "#ff0000", backgroundColor: "#ff0000", borderWidth: 1.2,
          pointStyle: "triangle", pointRadius: p.rD, pointBorderWidth: 0, tension: 0,
        },
        {
          label: "H-MPG", data: toPoints(p.h, p.hMid, p.start, p.step), order: 1,
          borderColor: "#000000", backgroundColor: "#000000", borderWidth: 1.2,
          pointStyle: "circle", pointRadius: p.rH, pointBorderWidth: 0, tension: 0,
        },
      ],
    },
    options: {
      responsive: false, animation: false, devicePixelRatio: 1,
      parsing: false,
      layout: { padding: p.padding, autoPadding: false },
      plugins: { legend: { display: false }, tooltip: { enabled: false } },
      scales: {
        x: axis(p.xMin, p.xMax, p.xTicks, p.xLabels, 7, (s) => { s.height = p.xHeight; }),
        y: axis(p.yMin, p.yMax, p.yTicks, p.yLabels, 9, (s) => { s.width = p.yWidth; }),
      },
    },
  });
}

drawPanel("tripletB", {
  h: tripletBH, d: tripletBD, start: tripletBStart, step: tripletBStep, rH: 3.5, rD: 4.4,
  xMin: 477, xMax: 5000, xTicks: tripletBXTicks, xLabels: tripletBXLabels,
  yMin: -1.8, yMax: 18.1, yTicks: tripletBYTicks, yLabels: tripletBYLabels,
  padding: { left: 0, right: 211, top: 19, bottom: 0 }, yWidth: 103, xHeight: 47,
});
drawPanel("tripletA", {
  h: tripletAH, hMid: tripletAHMid, d: tripletAD, dMid: tripletADMid,
  start: tripletAStart, step: tripletAStep, rH: 3.1, rD: 3.9,
  xMin: -2500, xMax: 22500, xTicks: tripletAXTicks, xLabels: tripletAXLabels,
  yMin: -3, yMax: 9, yTicks: tripletAYTicks, yLabels: tripletAYLabels,
  padding: { left: 0, right: 214, top: 19, bottom: 0 }, yWidth: 99, xHeight: 48,
});
drawPanel("ketene", {
  h: keteneH, hMid: keteneHMid, d: keteneD, dMid: keteneDMid,
  start: keteneStart, step: keteneStep, rH: 3.1, rD: 3.9,
  xMin: -2500, xMax: 22500, xTicks: keteneXTicks, xLabels: keteneXLabels,
  yMin: -1.5, yMax: 5, yTicks: keteneYTicks, yLabels: keteneYLabels,
  padding: { left: 0, right: 214, top: 20, bottom: 0 }, yWidth: 99, xHeight: 56,
});
</script>
</body>
</html>
